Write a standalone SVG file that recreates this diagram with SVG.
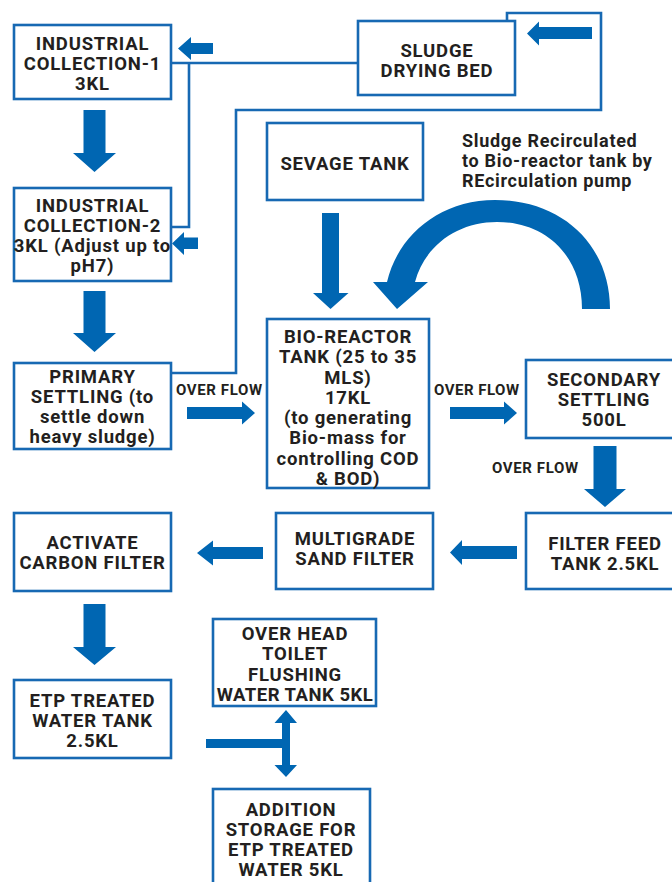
<svg xmlns="http://www.w3.org/2000/svg" width="672" height="882" viewBox="0 0 672 882">
<style>
.box{fill:#fff;stroke:#1769b3;stroke-width:2.6}
.t{font-family:Roboto,"Liberation Sans",sans-serif;font-weight:700;font-size:18.5px;letter-spacing:0.8px;fill:#231f20;text-anchor:middle}
.s{font-family:Roboto,"Liberation Sans",sans-serif;font-weight:700;font-size:15px;fill:#231f20}
.a{font-family:Roboto,"Liberation Sans",sans-serif;font-weight:700;font-size:18px;letter-spacing:0.7px;fill:#231f20}
.ln{fill:none;stroke:#1769b3;stroke-width:2.6}
.ar{fill:#0066b2}
</style>
<rect width="672" height="882" fill="#fff"/>

<g id="connectors">
<polyline class="ln" points="171,63 358,63"/>
<polyline class="ln" points="189,63 189,227 171,227"/>
<polyline class="ln" points="507,21 507,13 601,13 601,110 236,110 236,373 171,373"/>
<polygon class="ar" points="83.5,110 105.5,110 105.5,153 116,153 94.5,172 73,153 83.5,153"/>
<polygon class="ar" points="83.5,291 105.5,291 105.5,333 116,333 94.5,352 73,333 83.5,333"/>
<polygon class="ar" points="83.5,604 105.5,604 105.5,647 116,647 94.5,665 73,647 83.5,647"/>
<polygon class="ar" points="322,213 339,213 339,293 348.5,293 330.5,309 313,293 322,293"/>
<polygon class="ar" points="593.5,446 616.5,446 616.5,489 626,489 605,507 584,489 593.5,489"/>
<polygon class="ar" points="187,407 242,407 242,401.5 255,413 242,424.5 242,419 187,419"/>
<polygon class="ar" points="450,407 504,407 504,401.5 517,413 504,424.5 504,419 450,419"/>
<polygon class="ar" points="517,546 462,546 462,540 450,552.5 462,565 462,559 517,559"/>
<polygon class="ar" points="263,547 213,547 213,540.5 197,553 213,565.5 213,559 263,559"/>
<polygon class="ar" points="592,27 539,27 539,21.5 527,33.5 539,45.5 539,39 592,39"/>
<polygon class="ar" points="213,43 191,43 191,37 178,48.5 191,60 191,54 213,54"/>
<polygon class="ar" points="198,237.5 184,237.5 184,232 172,243.5 184,255 184,249 198,249"/>
<path class="ar" d="M610,309 C610,245 562,200 495,200 C440,200 398,235 387,282 L373,282 L397,309 L428,282 L415,282 C425,245 458,222 497,222 C545,222 582,255 582,309 Z"/>
<rect class="ar" x="206" y="739" width="82" height="9"/>
<polygon class="ar" points="286,710 297,723 290,723 290,765 297,765 286,777 274.5,765 282,765 282,723 274.5,723"/>
</g>

<g id="ic1"><rect class="box" x="14" y="25" width="157" height="74"/>
<text class="t" x="92.5" y="50">INDUSTRIAL</text><text class="t" x="92.5" y="70">COLLECTION-1</text><text class="t" x="92.5" y="90">3KL</text></g>

<g id="sludge-bed"><rect class="box" x="358" y="21" width="157" height="74"/>
<text class="t" x="437" y="57">SLUDGE</text><text class="t" x="437" y="77">DRYING BED</text></g>

<g id="ic2"><rect class="box" x="14" y="188" width="157" height="93"/>
<text class="t" x="92.5" y="212">INDUSTRIAL</text><text class="t" x="92.5" y="232">COLLECTION-2</text><text class="t" x="92.5" y="252">3KL (Adjust up to</text><text class="t" x="92.5" y="272">pH7)</text></g>

<g id="sewage"><rect class="box" x="267" y="123" width="156" height="77"/>
<text class="t" x="345" y="170">SEVAGE TANK</text></g>

<g id="recirc-note">
<text class="a" x="462" y="147">Sludge Recirculated</text>
<text class="a" x="462" y="167">to Bio-reactor tank by</text>
<text class="a" x="462" y="187">REcirculation pump</text>
</g>

<g id="primary"><rect class="box" x="14" y="363" width="157" height="86"/>
<text class="t" x="92.5" y="383">PRIMARY</text><text class="t" x="92.5" y="403">SETTLING (to</text><text class="t" x="92.5" y="423">settle down</text><text class="t" x="92.5" y="443">heavy sludge)</text></g>

<text class="s" x="176" y="395" textLength="86">OVER FLOW</text>
<text class="s" x="434" y="395" textLength="85">OVER FLOW</text>
<text class="s" x="492" y="473" textLength="86">OVER FLOW</text>

<g id="bio"><rect class="box" x="267" y="319" width="162" height="169"/>
<text class="t" x="348" y="343">BIO-REACTOR</text><text class="t" x="348" y="363">TANK (25 to 35</text><text class="t" x="348" y="384">MLS)</text><text class="t" x="348" y="404">17KL</text><text class="t" x="348" y="424">(to generating</text><text class="t" x="348" y="444">Bio-mass for</text><text class="t" x="348" y="465">controlling COD</text><text class="t" x="348" y="485">&amp; BOD)</text></g>

<g id="secondary"><rect class="box" x="526" y="360" width="160" height="78"/>
<text class="t" x="604" y="386">SECONDARY</text><text class="t" x="604" y="406">SETTLING</text><text class="t" x="604" y="426">500L</text></g>

<g id="acf"><rect class="box" x="14" y="513" width="157" height="78"/>
<text class="t" x="92.5" y="549">ACTIVATE</text><text class="t" x="92.5" y="569">CARBON FILTER</text></g>

<g id="msf"><rect class="box" x="276" y="513" width="157" height="76"/>
<text class="t" x="355" y="545">MULTIGRADE</text><text class="t" x="355" y="565">SAND FILTER</text></g>

<g id="fft"><rect class="box" x="526" y="513" width="160" height="76"/>
<text class="t" x="605" y="550">FILTER FEED</text><text class="t" x="605" y="570">TANK 2.5KL</text></g>

<g id="etp"><rect class="box" x="14" y="680" width="157" height="78"/>
<text class="t" x="92.5" y="707">ETP TREATED</text><text class="t" x="92.5" y="727">WATER TANK</text><text class="t" x="92.5" y="747">2.5KL</text></g>

<g id="overhead"><rect class="box" x="213" y="619" width="163" height="87"/>
<text class="t" x="295" y="640">OVER HEAD</text><text class="t" x="295" y="660">TOILET</text><text class="t" x="295" y="681">FLUSHING</text><text class="t" x="295" y="701" style="letter-spacing:0.5px">WATER TANK 5KL</text></g>

<g id="addition"><rect class="box" x="213" y="789" width="157" height="110"/>
<text class="t" x="291" y="816">ADDITION</text><text class="t" x="291" y="836">STORAGE FOR</text><text class="t" x="291" y="856">ETP TREATED</text><text class="t" x="291" y="876">WATER 5KL</text></g>
</svg>
